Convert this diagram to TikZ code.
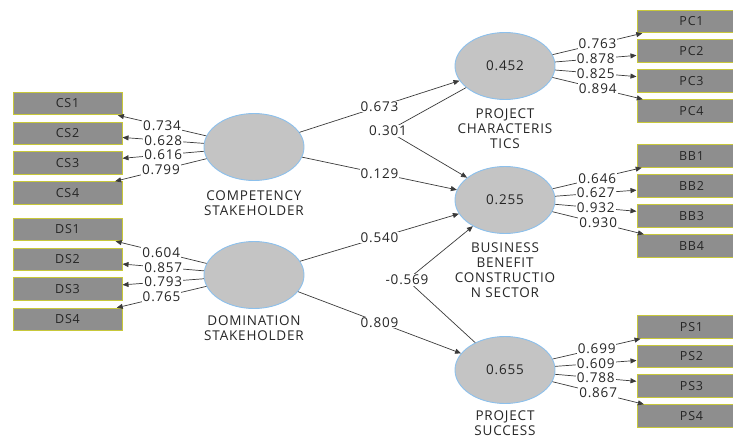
\documentclass[tikz,border=0pt]{standalone}
\usepackage{fontspec}
\setmainfont{Open Sans}
\newfontfamily\lblfont[LetterSpace=6]{Open Sans}
\usetikzlibrary{shapes.geometric,arrows.meta}
\definecolor{boxfill}{HTML}{8E8E8E}
\definecolor{boxline}{HTML}{C8C83A}
\definecolor{ellfill}{HTML}{C4C4C4}
\definecolor{elline}{HTML}{8CC0EC}
\definecolor{txt}{HTML}{262626}
\definecolor{arr}{HTML}{3A3A3A}
\tikzset{
  ind/.style={rectangle, draw=boxline, line width=1pt, fill=boxfill, minimum width=109pt, minimum height=22.5pt, inner sep=0pt, font=\lblfont\fontsize{12.5}{14}\selectfont, text=txt},
  lv/.style={ellipse, draw=elline, line width=0.9pt, fill=ellfill, minimum width=100pt, minimum height=67pt, inner sep=0pt, font=\lblfont\fontsize{13.5}{15}\selectfont, text=txt},
  lvname/.style={align=center, font=\lblfont\fontsize{13.5}{15}\selectfont, text=txt, inner sep=0pt},
  ld/.style={fill=white, inner sep=1pt, font=\lblfont\fontsize{13.5}{15}\selectfont, text=txt},
  con/.style={draw=arr, line width=0.7pt, -{Triangle[length=6pt,width=5pt]}}
}
\begin{document}
\begin{tikzpicture}[x=1pt,y=-1pt]
\useasboundingbox (0,0) rectangle (733,438);
\clip (0,0) rectangle (733,438);
% latent variables
\node[lv] (cs) at (254,147) {};
\node[lv] (ds) at (254,275) {};
\node[lv] (pc) at (505,66) {0.452};
\node[lv] (bb) at (505,200) {0.255};
\node[lv] (ps) at (505,370) {0.655};
\node[lvname] (csn) at (254,203.5) {COMPETENCY\\STAKEHOLDER};
\node[lvname] (dsn) at (254,328.5) {DOMINATION\\STAKEHOLDER};
\node[lvname] (pcn) at (505,128.5) {PROJECT\\CHARACTERIS\\TICS};
\node[lvname] (bbn) at (505,270) {BUSINESS\\BENEFIT\\CONSTRUCTIO\\N SECTOR};
\node[lvname] (psn) at (505,423.5) {PROJECT\\SUCCESS};
% indicators left
\node[ind] (CS1) at (67.5,103.5) {CS1};
\node[ind] (CS2) at (67.5,133.5) {CS2};
\node[ind] (CS3) at (67.5,163) {CS3};
\node[ind] (CS4) at (67.5,193) {CS4};
\node[ind] (DS1) at (67.5,229.5) {DS1};
\node[ind] (DS2) at (67.5,259.5) {DS2};
\node[ind] (DS3) at (67.5,289) {DS3};
\node[ind] (DS4) at (67.5,319.5) {DS4};
% indicators right
\node[ind] (PC1) at (691.5,21.5) {PC1};
\node[ind] (PC2) at (691.5,51) {PC2};
\node[ind] (PC3) at (691.5,81) {PC3};
\node[ind] (PC4) at (691.5,111) {PC4};
\node[ind] (BB1) at (691.5,156) {BB1};
\node[ind] (BB2) at (691.5,186) {BB2};
\node[ind] (BB3) at (691.5,216) {BB3};
\node[ind] (BB4) at (691.5,246) {BB4};
\node[ind] (PS1) at (691.5,327) {PS1};
\node[ind] (PS2) at (691.5,356.5) {PS2};
\node[ind] (PS3) at (691.5,386) {PS3};
\node[ind] (PS4) at (691.5,416) {PS4};
% loadings
\foreach \v/\i/\l in {cs/CS1/0.734, cs/CS2/0.628, cs/CS3/0.616, cs/CS4/0.799,
                      ds/DS1/0.604, ds/DS2/0.857, ds/DS3/0.793, ds/DS4/0.765,
                      pc/PC1/0.763, pc/PC2/0.878, pc/PC3/0.825, pc/PC4/0.894,
                      bb/BB1/0.646, bb/BB2/0.627, bb/BB3/0.932, bb/BB4/0.930,
                      ps/PS1/0.699, ps/PS2/0.609, ps/PS3/0.788, ps/PS4/0.867}
  \draw[con] (\v) -- node[ld] {\l} (\i);
% structural paths
\draw[con] (cs) -- node[ld] {0.673} (pc);
\draw[con] (cs) -- node[ld] {0.129} (bb);
\draw[con] (ds) -- node[ld] {0.540} (bb);
\draw[con] (ds) -- node[ld] {0.809} (ps);
\coordinate (b301) at (388,131);
\coordinate (b569) at (407,280);
\draw[con] (pc) -- (b301) -- (bb);
\draw[con] (ps) -- (b569) -- (bb);
\node[ld] (l301) at (b301) {0.301};
\node[ld] (l569) at (b569) {-0.569};
\end{tikzpicture}
\end{document}
